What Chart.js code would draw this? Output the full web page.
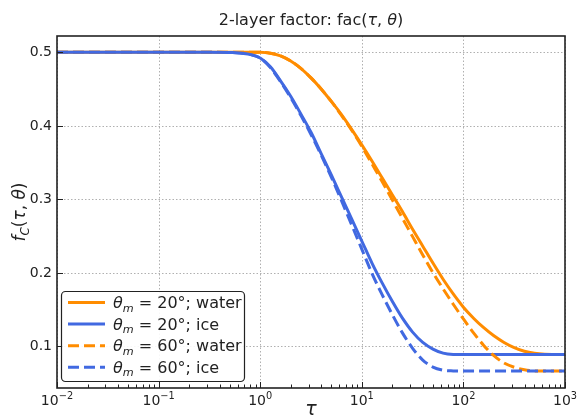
<!DOCTYPE html>
<html>
<head>
<meta charset="utf-8">
<script src="https://cdn.jsdelivr.net/npm/chart.js@4.4.1/dist/chart.umd.min.js"></script>
<style>
  html, body { margin: 0; padding: 0; background: #fff; }
  canvas { display: block; }
</style>
</head>
<body>
<canvas id="fac-chart" width="577" height="420"></canvas>
<script>
// sample positions (log10 of tau)
const logTau = [-2, -1, -0.5, -0.3, -0.2, -0.1,
  0, 0.1, 0.2, 0.3, 0.4, 0.5, 0.6, 0.7, 0.8, 0.9,
  1.0, 1.1, 1.2, 1.3, 1.4, 1.5, 1.6, 1.7, 1.8, 1.9,
  2.0, 2.1, 2.2, 2.3, 2.4, 2.5, 2.6, 2.7, 2.8, 2.9, 3.0];

const water20 = [0.5, 0.5, 0.5, 0.5, 0.5, 0.5,
  0.4998, 0.4985, 0.495, 0.488, 0.478, 0.465, 0.450, 0.433, 0.415, 0.395,
  0.374, 0.352, 0.329, 0.306, 0.283, 0.259, 0.236, 0.213, 0.191, 0.171,
  0.153, 0.138, 0.125, 0.114, 0.105, 0.098, 0.093, 0.0902, 0.0889, 0.0886, 0.0885];

const ice20 = [0.5, 0.5, 0.5, 0.4995, 0.499, 0.497,
  0.492, 0.480, 0.461, 0.440, 0.416, 0.391, 0.362, 0.333, 0.303, 0.273,
  0.243, 0.213, 0.186, 0.161, 0.138, 0.119, 0.105, 0.096, 0.0905, 0.0887,
  0.0885, 0.0885, 0.0885, 0.0885, 0.0885, 0.0885, 0.0885, 0.0885, 0.0885, 0.0885, 0.0885];

const water60 = [0.5, 0.5, 0.5, 0.5, 0.5, 0.5,
  0.4998, 0.4985, 0.495, 0.488, 0.478, 0.465, 0.450, 0.433, 0.414, 0.394,
  0.372, 0.348, 0.324, 0.299, 0.274, 0.249, 0.224, 0.200, 0.178, 0.157,
  0.137, 0.118, 0.101, 0.087, 0.077, 0.0712, 0.0677, 0.0663, 0.066, 0.066, 0.066];

const ice60 = [0.5, 0.5, 0.5, 0.4995, 0.499, 0.497,
  0.492, 0.479, 0.460, 0.438, 0.414, 0.388, 0.360, 0.330, 0.298, 0.265,
  0.232, 0.199, 0.170, 0.143, 0.118, 0.097, 0.081, 0.0715, 0.0672, 0.0662,
  0.066, 0.066, 0.066, 0.066, 0.066, 0.066, 0.066, 0.066, 0.066, 0.066, 0.066];

const angles = ['20', '20', '60', '60'];
const media = ['water', 'ice', 'water', 'ice'];
const yTicks = [0.1, 0.2, 0.3, 0.4, 0.5];
const xDecades = [-2, -1, 0, 1, 2, 3];

const ORANGE = '#ff8c00';
const BLUE = '#4169e1';
const FONT = '"DejaVu Sans", sans-serif';
const DASH = [11, 5];

function pts(vals) {
  return vals.map((v, i) => ({ x: Math.pow(10, logTau[i]), y: v }));
}

// draw a run of text pieces (italic / subscript / superscript) starting at x
function richWidth(ctx, parts, size) {
  let w = 0;
  parts.forEach(p => {
    const s = (p.sub || p.sup) ? size * 0.7 : size;
    ctx.font = (p.it ? 'italic ' : '') + s + 'px ' + FONT;
    w += ctx.measureText(p.t).width;
  });
  return w;
}
function drawRich(ctx, parts, x, y, size, align) {
  const w = richWidth(ctx, parts, size);
  let cx = align === 'center' ? x - w / 2 : (align === 'right' ? x - w : x);
  ctx.textAlign = 'left';
  ctx.textBaseline = 'alphabetic';
  parts.forEach(p => {
    const s = (p.sub || p.sup) ? size * 0.7 : size;
    ctx.font = (p.it ? 'italic ' : '') + s + 'px ' + FONT;
    let dy = 0;
    if (p.sub) dy = size * 0.22;
    if (p.sup) dy = -size * 0.42;
    ctx.fillText(p.t, cx, y + dy);
    cx += ctx.measureText(p.t).width;
  });
}

const datasets = [
  { data: pts(water20), borderColor: ORANGE, borderDash: [], order: 3 },
  { data: pts(ice20), borderColor: BLUE, borderDash: [], order: 2 },
  { data: pts(water60), borderColor: ORANGE, borderDash: DASH, order: 1 },
  { data: pts(ice60), borderColor: BLUE, borderDash: DASH, order: 0 }
].map(d => Object.assign(d, {
  borderWidth: 3, pointRadius: 0, fill: false,
  cubicInterpolationMode: 'monotone', borderCapStyle: 'butt'
}));

const mplAxes = {
  id: 'mplAxes',
  beforeDatasetsDraw(chart) {
    const { ctx, chartArea: a, scales: { x, y } } = chart;
    ctx.save();
    ctx.strokeStyle = '#b0b0b0';
    ctx.lineWidth = 1;
    ctx.setLineDash([1.5, 2]);
    xDecades.forEach(e => {
      const px = Math.round(x.getPixelForValue(Math.pow(10, e))) + 0.5;
      ctx.beginPath(); ctx.moveTo(px, a.top); ctx.lineTo(px, a.bottom); ctx.stroke();
    });
    yTicks.forEach(v => {
      const py = Math.round(y.getPixelForValue(v)) + 0.5;
      ctx.beginPath(); ctx.moveTo(a.left, py); ctx.lineTo(a.right, py); ctx.stroke();
    });
    ctx.restore();
  },
  afterDraw(chart) {
    const { ctx, chartArea: a, scales: { x, y } } = chart;
    ctx.save();
    ctx.fillStyle = '#222';
    ctx.strokeStyle = '#222';

    // ticks, pointing inward
    ctx.lineWidth = 1;
    xDecades.forEach(e => {
      const px = Math.round(x.getPixelForValue(Math.pow(10, e))) + 0.5;
      ctx.beginPath(); ctx.moveTo(px, a.bottom); ctx.lineTo(px, a.bottom - 6); ctx.stroke();
      if (e < 3) {
        for (let k = 2; k <= 9; k++) {
          const mx = Math.round(x.getPixelForValue(k * Math.pow(10, e))) + 0.5;
          ctx.beginPath(); ctx.moveTo(mx, a.bottom); ctx.lineTo(mx, a.bottom - 3.5); ctx.stroke();
        }
      }
    });
    yTicks.forEach(v => {
      const py = Math.round(y.getPixelForValue(v)) + 0.5;
      ctx.beginPath(); ctx.moveTo(a.left, py); ctx.lineTo(a.left + 6, py); ctx.stroke();
    });

    // frame
    ctx.lineWidth = 1.6;
    ctx.strokeRect(a.left, a.top, a.right - a.left, a.bottom - a.top);

    // tick labels
    ctx.font = '14px ' + FONT;
    ctx.textAlign = 'right';
    ctx.textBaseline = 'middle';
    yTicks.forEach(v => ctx.fillText(v.toFixed(1), a.left - 5, y.getPixelForValue(v) + 0.5));
    xDecades.forEach(e => {
      const px = x.getPixelForValue(Math.pow(10, e));
      const exp = e < 0 ? '\u2212' + (-e) : String(e);
      drawRich(ctx, [{ t: '10' }, { t: exp, sup: true }], px, a.bottom + 17, 14, 'center');
    });

    // axis labels
    drawRich(ctx, [{ t: '\u03c4', it: true }], (a.left + a.right) / 2, 415, 19, 'center');
    ctx.save();
    ctx.translate(25, (a.top + a.bottom) / 2);
    ctx.rotate(-Math.PI / 2);
    drawRich(ctx, [{ t: 'f', it: true }, { t: 'C', it: true, sub: true }, { t: '(' },
      { t: '\u03c4', it: true }, { t: ', ' }, { t: '\u03b8', it: true }, { t: ')' }], 0, 0, 17, 'center');
    ctx.restore();

    // title
    drawRich(ctx, [{ t: '2-layer factor: fac(' }, { t: '\u03c4', it: true }, { t: ', ' },
      { t: '\u03b8', it: true }, { t: ')' }], (a.left + a.right) / 2, 25, 16, 'center');

    // legend
    const lx = 61, ly = 291, lw = 183, lh = 90;
    ctx.fillStyle = 'rgba(255,255,255,0.9)';
    ctx.strokeStyle = '#222';
    ctx.lineWidth = 1.2;
    ctx.beginPath();
    ctx.roundRect(lx + 0.5, ly + 0.5, lw, lh, 4);
    ctx.fill(); ctx.stroke();
    datasets.forEach((d, i) => {
      const ry = 302.5 + i * 21.6;
      ctx.strokeStyle = d.borderColor;
      ctx.lineWidth = 3;
      ctx.lineCap = 'butt';
      ctx.setLineDash(d.borderDash);
      ctx.beginPath(); ctx.moveTo(68, ry); ctx.lineTo(105, ry); ctx.stroke();
      ctx.setLineDash([]);
      ctx.fillStyle = '#222';
      drawRich(ctx, [{ t: '\u03b8', it: true }, { t: 'm', it: true, sub: true },
        { t: ' = ' + angles[i] + '\u00b0; ' + media[i] }], 113, ry + 5.5, 16, 'left');
    });
    ctx.restore();
  }
};

new Chart(document.getElementById('fac-chart').getContext('2d'), {
  type: 'line',
  data: { datasets: datasets },
  plugins: [mplAxes],
  options: {
    responsive: false,
    animation: false,
    devicePixelRatio: 1,
    layout: { padding: { left: 57, right: 12, top: 36, bottom: 32 } },
    plugins: { legend: { display: false }, tooltip: { enabled: false } },
    scales: {
      x: { type: 'logarithmic', min: 0.01, max: 1000, display: false },
      y: { type: 'linear', min: 0.043, max: 0.522, display: false }
    }
  }
});
</script>
</body>
</html>
